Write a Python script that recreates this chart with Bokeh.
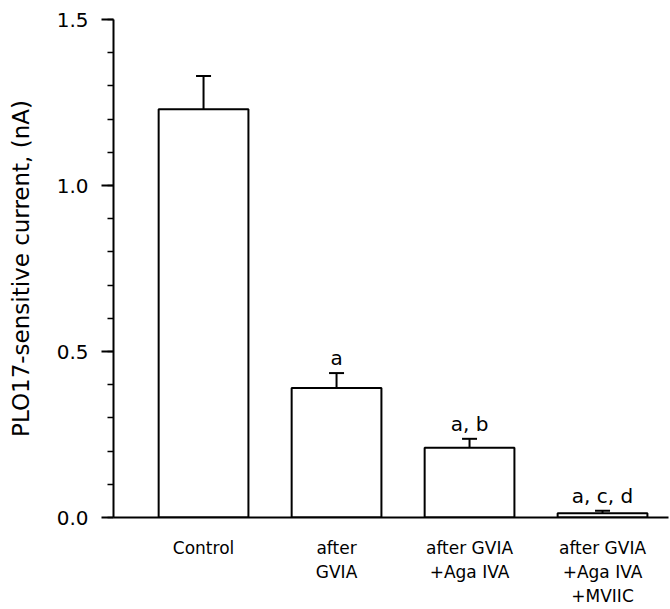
from bokeh.plotting import figure
from bokeh.models import FixedTicker, ColumnDataSource, Range1d
from bokeh.core.properties import value
from bokeh.embed import file_html
from bokeh.resources import INLINE

categories = ["Control", "after\nGVIA", "after GVIA\n+Aga IVA", "after GVIA\n+Aga IVA\n+MVIIC"]
means = [1.23, 0.39, 0.21, 0.013]
sems = [0.10, 0.045, 0.027, 0.007]
letters = ["", "a", "a, b", "a, c, d"]
y_ticks = [0.0, 0.5, 1.0, 1.5]
y_tick_labels = ["0.0", "0.5", "1.0", "1.5"]

FONT = "DejaVu Sans"
xs = list(range(1, len(categories) + 1))
tops = [m + s for m, s in zip(means, sems)]

src = ColumnDataSource(dict(x=xs, top=means, etop=tops, lab=letters))

p = figure(frame_width=555, frame_height=498, output_backend="svg",
           toolbar_location=None, x_range=Range1d(0.323, 4.496),
           y_range=Range1d(0, 1.5), min_border_left=113, min_border_top=19,
           min_border_right=2, min_border_bottom=90)
p.outline_line_color = None
p.grid.visible = False
p.background_fill_color = "white"

p.vbar(x="x", top="top", bottom=0, width=0.675, source=src,
       fill_color="white", line_color="black", line_width=2)
p.segment(x0="x", y0="top", x1="x", y1="etop", source=src,
          line_color="black", line_width=2)
p.scatter(x="x", y="etop", marker="dash", size=15, source=src,
          line_color="black", line_width=2)
p.text(x="x", y="etop", text="lab", source=src, y_offset=-15,
       text_align="center", text_baseline="alphabetic",
       text_font=value(FONT), text_font_size="20px", text_color="black")

ya = p.yaxis[0]
ya.ticker = FixedTicker(ticks=y_ticks,
                        minor_ticks=[i / 10 for i in range(16)])
ya.major_label_overrides = {t: l for t, l in zip(y_ticks, y_tick_labels)}
ya.major_tick_out = 12
ya.major_tick_in = 0
ya.minor_tick_out = 6
ya.minor_tick_in = 0
ya.axis_line_width = 2
ya.major_tick_line_width = 2
ya.minor_tick_line_width = 1.5
ya.major_label_text_font = FONT
ya.major_label_text_font_size = "20px"
ya.major_label_text_color = "black"
ya.major_label_standoff = 13
ya.axis_label = "PLO17-sensitive current, (nA)"
ya.axis_label_text_font = FONT
ya.axis_label_text_font_size = "23px"
ya.axis_label_text_font_style = "normal"
ya.axis_label_text_color = "black"
ya.axis_label_standoff = 20

xa = p.xaxis[0]
xa.ticker = FixedTicker(ticks=xs, minor_ticks=[])
xa.major_label_overrides = {x: c for x, c in zip(xs, categories)}
xa.major_tick_out = 0
xa.major_tick_in = 0
xa.minor_tick_out = 0
xa.axis_line_width = 2
xa.major_label_text_font = FONT
xa.major_label_text_font_size = "17px"
xa.major_label_text_color = "black"
xa.major_label_standoff = 20

open("out.html", "w").write(file_html(p, INLINE))
